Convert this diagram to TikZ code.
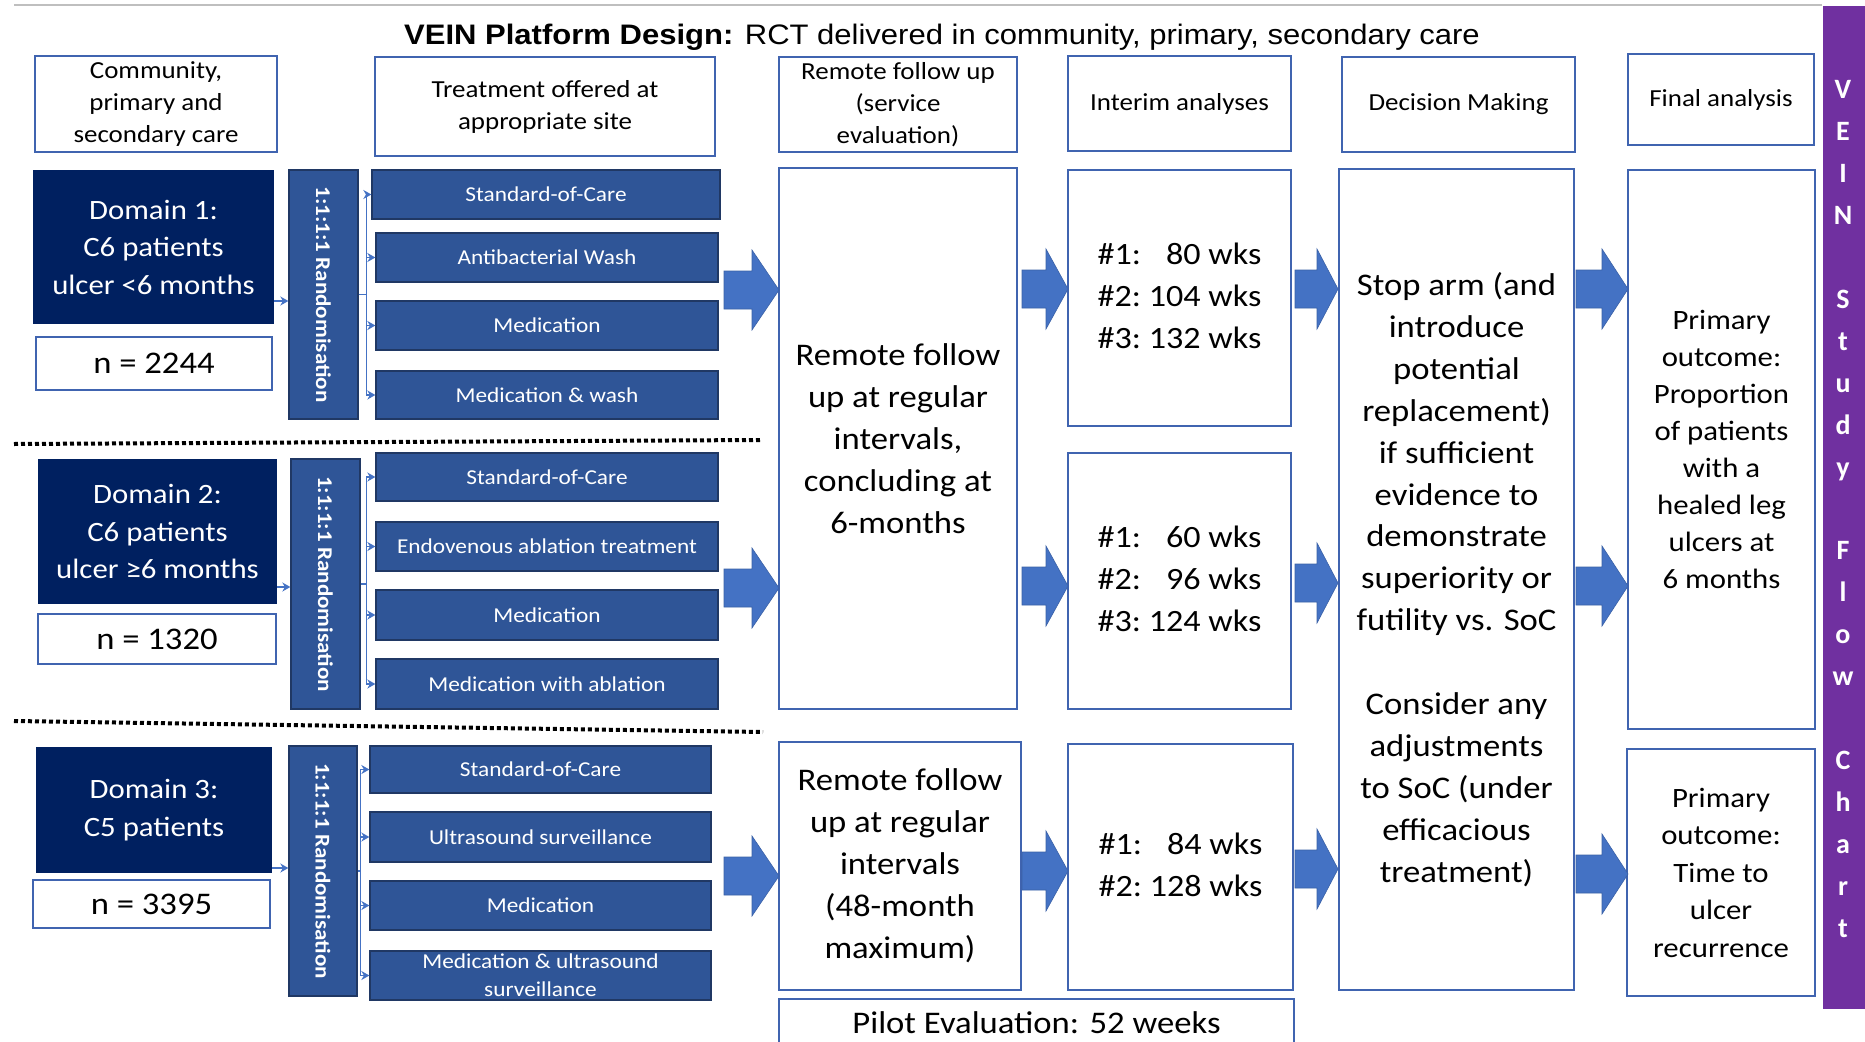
\documentclass[tikz,border=0pt]{standalone}
\usepackage{fontspec}
\setmainfont{Carlito}[FakeStretch=1.1]
\newfontfamily\titlefont{Liberation Sans}[FakeStretch=1.1]
\newfontfamily\plainfont{Carlito}
\usetikzlibrary{calc,arrows.meta}

\definecolor{navy}{HTML}{002060}
\definecolor{midblue}{HTML}{2F5597}
\definecolor{darkblue}{HTML}{203864}
\definecolor{edgeblue}{HTML}{4064B0}
\definecolor{arrowblue}{HTML}{4472C4}
\definecolor{vpurple}{HTML}{7030A0}

\tikzset{
  outline/.style={draw=edgeblue, line width=1.5pt, fill=white, align=center, inner sep=0pt, text=black},
  domainbox/.style={fill=navy, text=white, align=center, inner sep=0pt},
  armbox/.style={fill=midblue, draw=darkblue, line width=1.3pt, text=white, align=center, inner sep=0pt,
                 font=\fontsize{21.2}{28}\selectfont},
  randbar/.style={fill=midblue, draw=darkblue, line width=1.3pt, inner sep=0pt},
  link/.style={draw=arrowblue, line width=1.4pt, -{Stealth[length=8pt,width=9pt]}},
  plainlink/.style={draw=arrowblue, line width=1.4pt},
  sepline/.style={line width=4pt, dash pattern=on 4pt off 3pt},
  headtext/.style={font=\fontsize{24.5}{32}\selectfont},
  bigtext/.style={font=\fontsize{31.5}{41.9}\selectfont},
  randtext/.style={rotate=-90, text=white, font=\fontsize{21}{24}\selectfont\bfseries, inner sep=0pt},
}

% box given by its corners: name, style, x1, y1, x2, y2, text
\newcommand\boxat[7]{%
  \pgfmathsetmacro\bxcen{(#3+#5)/2}%
  \pgfmathsetmacro\bycen{(#4+#6)/2}%
  \pgfmathsetmacro\bxwid{#5-#3}%
  \pgfmathsetmacro\byhgt{#6-#4}%
  \node[#2, minimum width=\bxwid pt, minimum height=\byhgt pt] (#1) at (\bxcen,\bycen) {#7};}

% block arrow: x start, x where head begins, x tip, y centre
\newcommand\blockarrow[4]{%
  \fill[arrowblue, draw=arrowblue!85!black, line width=0.6pt]
    (#1,#4-19) -- (#2,#4-19) -- (#2,#4-40) -- (#3,#4) -- (#2,#4+40) -- (#2,#4+19) -- (#1,#4+19) -- cycle;}

\begin{document}
\begin{tikzpicture}[x=1pt, y=-1pt]
\useasboundingbox (0,0) rectangle (1865,1041);
\clip (0,0) rectangle (1865,1041);
\fill[white] (0,0) rectangle (1865,1041);

% top rule and title
\draw[black!25, line width=1.5pt] (14,5) -- (1822,5);
\node[font=\titlefont\fontsize{28.2}{34}\selectfont, inner sep=0pt, anchor=base] (title) at (942,45)
  {\textbf{VEIN Platform Design:} RCT delivered in community, primary, secondary care};

% side banner
\boxat{banner}{fill=vpurple, inner sep=0pt}{1823}{6}{1866}{1009}{}
\node[font=\plainfont\fontsize{28}{41.95}\selectfont\bfseries, text=white, align=center, inner sep=0pt]
  (bannertext) at (1843,509)
  {V\\E\\I\\N\\\mbox{}\\S\\t\\u\\d\\y\\\mbox{}\\F\\l\\o\\w\\\mbox{}\\C\\h\\a\\r\\t};

% column headers
\boxat{h1}{outline,headtext}{35}{56}{277}{152}{Community,\\primary and\\secondary care}
\boxat{h2}{outline,headtext}{375}{57}{715}{156}{Treatment offered at\\appropriate site}
\boxat{h3}{outline,headtext}{779}{57}{1017}{152}{Remote follow up\\(service\\evaluation)}
\boxat{h4}{outline,headtext}{1068}{56}{1291}{151}{Interim analyses}
\boxat{h5}{outline,headtext}{1342}{57}{1575}{152}{Decision Making}
\boxat{h6}{outline,headtext}{1628}{54}{1814}{145}{Final analysis}

% ---------------- Domain 1
\boxat{d1}{domainbox,font=\fontsize{28}{37.5}\selectfont}{33}{170}{274}{324}{Domain 1:\\C6 patients\\ulcer <6 months}
\boxat{n1}{outline,font=\fontsize{31.5}{38}\selectfont}{36}{337}{272}{390}{n = 2244}
\boxat{r1}{randbar}{289}{170}{358}{419}{}
\node[randtext] (r1t) at (r1.center) {1:1:1:1 Randomisation};
\boxat{t11}{armbox}{372}{170}{720}{219}{Standard-of-Care}
\boxat{t12}{armbox}{376}{233}{718}{282}{Antibacterial Wash}
\boxat{t13}{armbox}{376}{301}{718}{350}{Medication}
\boxat{t14}{armbox}{376}{371}{718}{419}{Medication \& wash}

% ---------------- Domain 2
\boxat{d2}{domainbox,font=\fontsize{28}{37.5}\selectfont}{38}{459}{277}{604}{Domain 2:\\C6 patients\\ulcer ≥6 months}
\boxat{n2}{outline,font=\fontsize{31.5}{38}\selectfont}{38}{614}{276}{664}{n = 1320}
\boxat{r2}{randbar}{291}{459}{360}{709}{}
\node[randtext] (r2t) at (r2.center) {1:1:1:1 Randomisation};
\boxat{t21}{armbox}{376}{453}{718}{501}{Standard-of-Care}
\boxat{t22}{armbox}{376}{522}{718}{571}{Endovenous ablation treatment}
\boxat{t23}{armbox}{376}{590}{718}{640}{Medication}
\boxat{t24}{armbox}{376}{659}{718}{709}{Medication with ablation}

% ---------------- Domain 3
\boxat{d3}{domainbox,font=\fontsize{28}{37.5}\selectfont}{36}{747}{272}{873}{Domain 3:\\C5 patients}
\boxat{n3}{outline,font=\fontsize{31.5}{38}\selectfont}{33}{880}{270}{928}{n = 3395}
\boxat{r3}{randbar}{289}{746}{357}{996}{}
\node[randtext] (r3t) at (r3.center) {1:1:1:1 Randomisation};
\boxat{t31}{armbox}{370}{746}{711}{793}{Standard-of-Care}
\boxat{t32}{armbox}{370}{812}{711}{862}{Ultrasound surveillance}
\boxat{t33}{armbox}{370}{881}{711}{930}{Medication}
\boxat{t34}{armbox}{370}{951}{711}{1000}{Medication \& ultrasound\\surveillance}

% domain separators
\draw[sepline] (14,444) -- (761,440);
\draw[sepline] (14,721) -- (763,732);

% domain -> randomisation
\draw[link] (d1.east |- 0,301) -- (r1.west |- 0,301);
\draw[link] (d2.east |- 0,587) -- (r2.west |- 0,587);
\draw[link] (d3.east |- 0,868) -- (r3.west |- 0,868);

% randomisation -> arms
\coordinate (b1) at ($(t12.west)+(-9,0)$);
\draw[plainlink] (b1 |- t11.west) -- (b1 |- t14.west);
\draw[plainlink] (r1.east) -- (b1 |- r1.east);
\foreach \t in {t11,t12,t13,t14} \draw[link] (b1 |- \t.west) -- (\t.west);

\coordinate (b2) at ($(t22.west)+(-9,0)$);
\draw[plainlink] (b2 |- t21.west) -- (b2 |- t24.west);
\draw[plainlink] (r2.east) -- (b2 |- r2.east);
\foreach \t in {t21,t22,t23,t24} \draw[link] (b2 |- \t.west) -- (\t.west);

\coordinate (b3) at ($(t32.west)+(-9,0)$);
\draw[plainlink] (b3 |- t31.west) -- (b3 |- t34.west);
\draw[plainlink] (r3.east) -- (b3 |- r3.east);
\foreach \t in {t31,t32,t33,t34} \draw[link] (b3 |- \t.west) -- (\t.west);

% follow-up, interim, decision, final
\boxat{fa}{outline,bigtext}{779}{168}{1017}{709}{Remote follow\\up at regular\\intervals,\\concluding at\\6-months}
\boxat{fb}{outline,bigtext}{779}{742}{1021}{990}{Remote follow\\up at regular\\intervals\\(48-month\\maximum)}

\boxat{ia}{outline,font=\fontsize{31}{42}\selectfont}{1068}{170}{1291}{426}%
  {\begin{tabular}{@{}l@{\hspace{0.25em}}r@{}}\#1: & 80 wks\\\#2: & 104 wks\\\#3: & 132 wks\end{tabular}}
\boxat{ib}{outline,font=\fontsize{31}{42}\selectfont}{1068}{453}{1291}{709}%
  {\begin{tabular}{@{}l@{\hspace{0.25em}}r@{}}\#1: & 60 wks\\\#2: & 96 wks\\\#3: & 124 wks\end{tabular}}
\boxat{ic}{outline,font=\fontsize{31}{42}\selectfont}{1068}{744}{1293}{990}%
  {\begin{tabular}{@{}l@{\hspace{0.25em}}r@{}}\#1: & 84 wks\\\#2: & 128 wks\end{tabular}}

\boxat{dm}{outline,bigtext}{1339}{169}{1574}{990}%
  {Stop arm (and\\introduce\\potential\\replacement)\\if sufficient\\evidence to\\demonstrate\\superiority or\\futility vs. SoC\\\mbox{}\\Consider any\\adjustments\\to SoC (under\\efficacious\\treatment)}

\boxat{ga}{outline,font=\fontsize{28}{37}\selectfont}{1628}{170}{1815}{729}%
  {Primary\\outcome:\\Proportion\\of patients\\with a\\healed leg\\ulcers at\\6 months}
\boxat{gb}{outline,font=\fontsize{28}{37.5}\selectfont}{1627}{749}{1815}{996}%
  {Primary\\outcome:\\Time to\\ulcer\\recurrence}

\boxat{pilot}{outline,font=\fontsize{31.5}{36}\selectfont}{779}{999}{1294}{1046}{Pilot Evaluation: 52 weeks}

% block arrows between stages
\blockarrow{724}{752}{779}{290}
\blockarrow{724}{752}{779}{588}
\blockarrow{724}{752}{779}{876}
\blockarrow{1022}{1046}{1068}{289}
\blockarrow{1022}{1046}{1068}{586}
\blockarrow{1022}{1046}{1068}{871}
\blockarrow{1295}{1317}{1338}{289}
\blockarrow{1295}{1317}{1338}{583}
\blockarrow{1295}{1317}{1338}{869}
\blockarrow{1576}{1602}{1628}{289}
\blockarrow{1576}{1602}{1628}{586}
\blockarrow{1576}{1602}{1628}{874}
\end{tikzpicture}
\end{document}
